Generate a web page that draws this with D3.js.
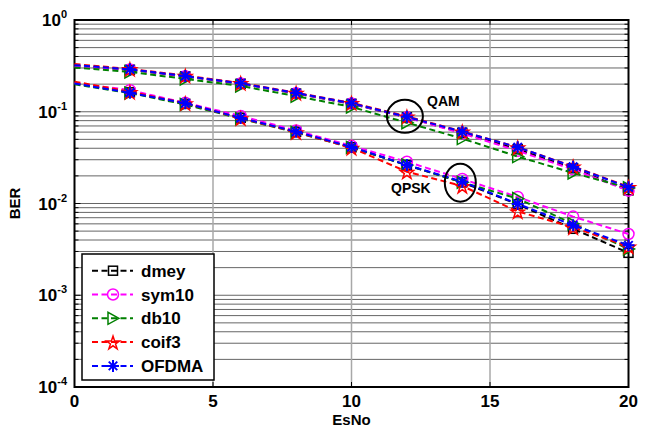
<!DOCTYPE html>
<html>
<head>
<meta charset="utf-8">
<script src="https://cdn.jsdelivr.net/npm/d3@7"></script>
<style>
  html, body { margin: 0; padding: 0; background: #fff; }
  text { font-family: "Liberation Sans", Arial, sans-serif; font-weight: bold; }
</style>
</head>
<body>
<svg id="chart" width="647" height="429"></svg>
<script>
// Eb/No sweep and BER results
const esno = [0, 2, 4, 6, 8, 10, 12, 14, 16, 18, 20];
const seriesNames = ["dmey", "sym10", "db10", "coif3", "OFDMA"];
const seriesColors = ["#000000", "#ff00ff", "#008000", "#ff0000", "#0000ff"];

// QAM curves
const qamDmey  = [0.316, 0.287, 0.243, 0.202, 0.158, 0.122, 0.087, 0.059, 0.039, 0.0242, 0.0139];
const qamSym10 = [0.312, 0.289, 0.244, 0.203, 0.159, 0.123, 0.087, 0.058, 0.0375, 0.0235, 0.0138];
const qamDb10  = [0.304, 0.272, 0.228, 0.191, 0.148, 0.113, 0.076, 0.051, 0.0325, 0.0215, 0.0148];
const qamCoif3 = [0.331, 0.293, 0.248, 0.206, 0.161, 0.125, 0.089, 0.061, 0.041, 0.0254, 0.0152];
const qamOfdma = [0.322, 0.290, 0.245, 0.204, 0.160, 0.124, 0.088, 0.0606, 0.041, 0.0252, 0.0150];

// QPSK curves
const qpskDmey  = [0.204, 0.163, 0.122, 0.086, 0.0605, 0.0410, 0.0262, 0.0170, 0.0098, 0.0053, 0.0029];
const qpskSym10 = [0.206, 0.172, 0.125, 0.090, 0.0625, 0.0425, 0.0285, 0.0185, 0.0118, 0.0072, 0.00465];
const qpskDb10  = [0.199, 0.160, 0.120, 0.084, 0.0595, 0.0408, 0.0262, 0.0170, 0.0113, 0.0060, 0.0032];
const qpskCoif3 = [0.213, 0.165, 0.124, 0.085, 0.0600, 0.0405, 0.0222, 0.0155, 0.0082, 0.0055, 0.0034];
const qpskOfdma = [0.203, 0.161, 0.124, 0.0855, 0.0606, 0.0413, 0.0263, 0.0173, 0.0099, 0.0058, 0.0035];

const xTicks = [0, 5, 10, 15, 20];
const yExponents = [0, -1, -2, -3, -4];

const qamSets  = [qamDmey, qamSym10, qamDb10, qamCoif3, qamOfdma];
const qpskSets = [qpskDmey, qpskSym10, qpskDb10, qpskCoif3, qpskOfdma];

const svg = d3.select("#chart");
const W = 647, H = 429;
const L = 74.5, R = 628.5, T = 20, B = 387;

const x = d3.scaleLinear().domain([0, 20]).range([L, R]);
const y = d3.scaleLog().domain([1e-4, 1]).range([B, T]);

svg.append("rect").attr("width", W).attr("height", H).attr("fill", "#fff");

// grid: every decade and its 2..9 subdivisions
const minorVals = [];
for (let e = -4; e < 0; e++) {
  for (let k = 1; k <= 9; k++) minorVals.push(k * Math.pow(10, e));
}
minorVals.push(1);

const grid = svg.append("g");
grid.selectAll("line.h").data(minorVals.filter(v => v > 1e-4 && v < 1)).enter()
  .append("line").attr("class", "h")
  .attr("x1", L).attr("x2", R)
  .attr("y1", d => y(d)).attr("y2", d => y(d))
  .attr("stroke", "#666").attr("stroke-width", 1);
grid.selectAll("line.v").data([5, 10, 15]).enter()
  .append("line").attr("class", "v")
  .attr("x1", d => x(d)).attr("x2", d => x(d))
  .attr("y1", T).attr("y2", B)
  .attr("stroke", "#a8a8a8").attr("stroke-width", 1.5);

// ticks on all four sides
const ticks = svg.append("g").attr("stroke", "#000").attr("stroke-width", 1);
minorVals.forEach(v => {
  const major = Math.abs(Math.log10(v) - Math.round(Math.log10(v))) < 1e-9;
  const len = major ? 6 : 4;
  ticks.append("line").attr("x1", L).attr("x2", L + len).attr("y1", y(v)).attr("y2", y(v));
  ticks.append("line").attr("x1", R).attr("x2", R - len).attr("y1", y(v)).attr("y2", y(v));
});
xTicks.forEach(t => {
  ticks.append("line").attr("x1", x(t)).attr("x2", x(t)).attr("y1", B).attr("y2", B - 5);
  ticks.append("line").attr("x1", x(t)).attr("x2", x(t)).attr("y1", T).attr("y2", T + 5);
});

// frame
svg.append("rect").attr("x", L).attr("y", T).attr("width", R - L).attr("height", B - T)
  .attr("fill", "none").attr("stroke", "#000").attr("stroke-width", 2);

// tick labels
const xl = svg.append("g");
xTicks.forEach(t => {
  xl.append("text").attr("x", x(t)).attr("y", 407).attr("text-anchor", "middle")
    .attr("font-size", 17).text(t);
});
yExponents.forEach(e => {
  const t = svg.append("text").attr("x", 67).attr("y", y(Math.pow(10, e)) + 6)
    .attr("text-anchor", "end").attr("font-size", 17);
  t.append("tspan").text("10");
  t.append("tspan").attr("dy", -8).attr("font-size", 11).text(e);
});

// axis titles
svg.append("text").attr("x", (L + R) / 2).attr("y", 425).attr("text-anchor", "middle")
  .attr("font-size", 15).text("EsNo");
svg.append("text").attr("transform", `translate(20,${(T + B) / 2}) rotate(-90)`)
  .attr("text-anchor", "middle").attr("font-size", 15).text("BER");

// marker drawers
function drawMarker(g, kind, cx, cy, color) {
  if (kind === 0) {
    g.append("rect").attr("x", cx - 4.5).attr("y", cy - 4.5).attr("width", 9).attr("height", 9)
      .attr("fill", "none").attr("stroke", color).attr("stroke-width", 1.5);
  } else if (kind === 1) {
    g.append("circle").attr("cx", cx).attr("cy", cy).attr("r", 5.5)
      .attr("fill", "none").attr("stroke", color).attr("stroke-width", 1.5);
  } else if (kind === 2) {
    g.append("path").attr("d", `M${cx + 6},${cy} L${cx - 5},${cy - 6} L${cx - 5},${cy + 6} Z`)
      .attr("fill", "none").attr("stroke", color).attr("stroke-width", 1.5);
  } else if (kind === 3) {
    g.append("path").attr("transform", `translate(${cx},${cy + 1})`)
      .attr("d", d3.symbol(d3.symbolStar, 55)())
      .attr("fill", "none").attr("stroke", color).attr("stroke-width", 1.5);
  } else {
    const r = 6;
    const p = [];
    [0, 45, 90, 135].forEach(a => {
      const rad = a * Math.PI / 180;
      p.push(`M${cx - r * Math.cos(rad)},${cy - r * Math.sin(rad)}L${cx + r * Math.cos(rad)},${cy + r * Math.sin(rad)}`);
    });
    g.append("path").attr("d", p.join("")).attr("fill", "none")
      .attr("stroke", color).attr("stroke-width", 2);
  }
}

const line = d3.line().x(d => x(d[0])).y(d => y(d[1]));
const plot = svg.append("g");

function drawSeries(vals, i) {
  const pts = esno.map((e, j) => [e, vals[j]]);
  plot.append("path").attr("d", line(pts)).attr("fill", "none")
    .attr("stroke", seriesColors[i]).attr("stroke-width", 2)
    .attr("stroke-dasharray", "6,3.5");
  const mg = plot.append("g");
  pts.filter(p => p[0] > 0).forEach(p => drawMarker(mg, i, x(p[0]), y(p[1]), seriesColors[i]));
}

for (let i = 0; i < 5; i++) {
  drawSeries(qamSets[i], i);
  drawSeries(qpskSets[i], i);
}

// annotations
svg.append("ellipse").attr("cx", x(12) - 2).attr("cy", y(qamOfdma[6]) - 0.5)
  .attr("rx", 18).attr("ry", 16.5).attr("fill", "none").attr("stroke", "#000").attr("stroke-width", 2);
svg.append("text").attr("x", 427).attr("y", 106).attr("font-size", 14).text("QAM");
svg.append("ellipse").attr("cx", x(14) - 2).attr("cy", y(qpskOfdma[7]) + 1)
  .attr("rx", 15.5).attr("ry", 19).attr("fill", "none").attr("stroke", "#000").attr("stroke-width", 2);
svg.append("text").attr("x", 391).attr("y", 193).attr("font-size", 14).text("QPSK");

// legend
const lg = svg.append("g");
lg.append("rect").attr("x", 82).attr("y", 254).attr("width", 132).attr("height", 126)
  .attr("fill", "#fff").attr("stroke", "#000").attr("stroke-width", 1.5);
seriesNames.forEach((name, i) => {
  const ly = 270.7 + i * 23.8;
  lg.append("line").attr("x1", 92).attr("x2", 133).attr("y1", ly).attr("y2", ly)
    .attr("stroke", seriesColors[i]).attr("stroke-width", 2).attr("stroke-dasharray", "6,3.5");
  drawMarker(lg, i, 113, ly, seriesColors[i]);
  lg.append("text").attr("x", 141).attr("y", ly + 6).attr("font-size", 17).text(name);
});
</script>
</body>
</html>
